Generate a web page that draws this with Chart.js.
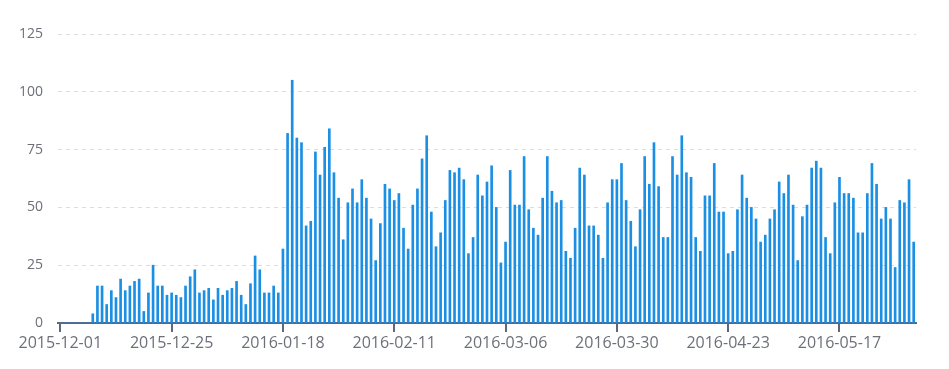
<!DOCTYPE html>
<html><head><meta charset="utf-8">
<script src="https://cdn.jsdelivr.net/npm/chart.js@4"></script>
<style>html,body{margin:0;padding:0;background:#fff;}#wrap{width:949px;height:369px;}</style>
</head><body><div id="wrap"><canvas id="c" width="949" height="369"></canvas></div>
<script>
const startDate = '2015-12-01';
const dayCount = 185;
const values = [
  0,0,0,0,0,0,0,
  4,16,16,8,14,11,19,14,16,18,19,5,13,25,16,16,12,13,12,11,16,20,23,13,14,15,10,15,12,14,15,18,12,8,17,29,23,13,13,16,13,32,82,105,
  80,78,42,44,74,64,76,84,65,54,36,52,58,52,62,54,45,27,43,60,58,53,56,41,32,51,58,71,
  81,48,33,39,53,66,65,67,62,30,37,64,55,61,68,50,26,35,66,51,51,72,49,41,38,54,72,57,52,53,31,28,41,67,
  64,42,42,38,28,52,62,62,69,53,44,33,49,72,60,78,59,37,37,72,64,81,65,63,37,31,55,55,69,48,48,30,31,49,64,
  54,50,45,35,38,45,49,61,56,64,51,27,46,51,67,70,67,37,30,52,63,56,56,54,39,39,56,69,60,45,50,45,24,53,52,62,35
];
const tickLabels = ['2015-12-01','2015-12-25','2016-01-18','2016-02-11','2016-03-06','2016-03-30','2016-04-23','2016-05-17'];
const yTicks = [0,25,50,75,100,125];

const categories = [];
const d0 = new Date(startDate + 'T00:00:00Z');
for (let i = 0; i < dayCount; i++) {
  const d = new Date(d0.getTime() + i * 86400000);
  categories.push(d.toISOString().slice(0,10));
}
const tickSet = new Set(tickLabels);
const axisColor = '#5f6680';
const textColor = '#6e7079';
const isLabeled = (c) => c.tick && tickSet.has(categories[c.index]);

new Chart(document.getElementById('c').getContext('2d'), {
  type: 'bar',
  data: {
    labels: categories,
    datasets: [{ data: values, backgroundColor: '#1a8fe3', barThickness: 2, borderWidth: 0 }]
  },
  options: {
    responsive: false,
    animation: false,
    layout: { padding: { top: 34, right: 33, left: 0, bottom: 0 } },
    plugins: { legend: { display: false }, tooltip: { enabled: false } },
    scales: {
      x: {
        offset: true,
        grid: {
          offset: false, drawOnChartArea: false, drawTicks: true, tickLength: 9, lineWidth: 2,
          color: c => isLabeled(c) ? axisColor : 'rgba(0,0,0,0)',
          tickColor: c => isLabeled(c) ? axisColor : 'rgba(0,0,0,0)'
        },
        border: { display: true, color: axisColor, width: 2 },
        ticks: {
          autoSkip: false, maxRotation: 0, minRotation: 0, padding: 2,
          font: { family: 'Open Sans', size: 16 }, color: textColor,
          callback: (v, i) => tickSet.has(categories[i]) ? categories[i] : ''
        },
        afterFit: s => { s.height = 46; }
      },
      y: {
        min: 0, max: 125,
        afterBuildTicks: s => { s.ticks = yTicks.map(v => ({ value: v })); },
        grid: { color: '#dcdcdc', drawTicks: false, lineWidth: 1 },
        border: { display: false, dash: [4, 4] },
        ticks: { padding: 15, font: { family: 'Open Sans', size: 14 }, color: textColor },
        afterFit: s => { s.width = 58; }
      }
    }
  }
});
</script></body></html>
